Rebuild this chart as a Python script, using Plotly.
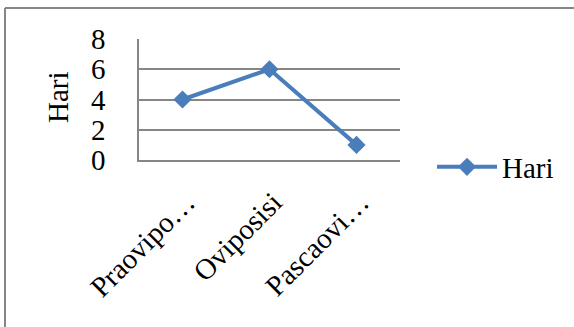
import plotly.graph_objects as go

categories = ["Praovipo…", "Oviposisi", "Pascaovi…"]
hari = [4, 6, 1]
y_ticks = [0, 2, 4, 6, 8]
series_name = "Hari"
axis_title = "Hari"

W, H = 574, 327
L, R, T, B = 139, 400, 39, 160
pw, ph = R - L, B - T

def px(X):
    return (X - L) / pw

def py(Y):
    return (B - Y) / ph

FONT = "Liberation Serif"
BLUE = "#4A7EBB"
GRID = "#868686"

fig = go.Figure()
fig.add_trace(go.Scatter(
    x=categories, y=hari, name=series_name, mode="lines+markers",
    line=dict(color=BLUE, width=4),
    marker=dict(symbol="diamond", size=14, color=BLUE),
))

fig.update_layout(
    width=W, height=H,
    margin=dict(l=L, r=W - R, t=T, b=H - B),
    paper_bgcolor="white", plot_bgcolor="white",
    font=dict(family=FONT, size=29, color="black"),
    showlegend=True,
    legend=dict(x=px(432), y=py(167), xanchor="left", yanchor="middle",
                font=dict(family=FONT, size=29, color="black"),
                itemwidth=60, bgcolor="rgba(0,0,0,0)"),
    xaxis=dict(type="category", range=[-0.5, 2.5], showgrid=False,
               showline=True, linecolor=GRID, linewidth=1.5,
               ticks="", tickangle=-45, ticklabelshift=4, ticklabelstandoff=12,
               tickfont=dict(family=FONT, size=29, color="black")),
    yaxis=dict(range=[0, 8], tickvals=y_ticks, showgrid=True,
               gridcolor=GRID, gridwidth=1.5, zeroline=False,
               showline=True, linecolor=GRID, linewidth=1.5,
               ticks="", ticklabelstandoff=26,
               tickfont=dict(family=FONT, size=29, color="black")),
    annotations=[dict(text=axis_title, textangle=-90, xref="paper", yref="paper",
                      x=px(58), y=py(97), xanchor="center", yanchor="middle",
                      showarrow=False,
                      font=dict(family=FONT, size=29, color="black"))],
    shapes=[
        dict(type="line", xref="paper", yref="paper", x0=px(5), x1=px(580),
             y0=py(8), y1=py(8), line=dict(color=GRID, width=2)),
        dict(type="line", xref="paper", yref="paper", x0=px(5), x1=px(5),
             y0=py(8), y1=py(335), line=dict(color=GRID, width=2)),
    ],
)

fig.write_html("out.html")
